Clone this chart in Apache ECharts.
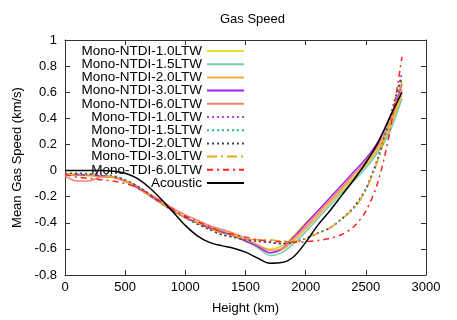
<!DOCTYPE html>
<html>
<head>
<meta charset="utf-8">
<script src="https://cdn.jsdelivr.net/npm/echarts@6/dist/echarts.min.js"></script>
<style>
  html, body { margin: 0; padding: 0; background: #fff; }
  #chart { width: 457px; height: 320px; }
</style>
</head>
<body>
<div id="chart"></div>
<script>
// heights (km) shared by every curve
const heights = [0, 100, 200, 300, 400, 500, 600, 700, 800, 900, 1000, 1100, 1200, 1300, 1400,
  1500, 1600, 1700, 1800, 1900, 2000, 2100, 2200, 2300, 2400, 2500, 2600, 2700, 2800]

const ntdi10 = [-0.03, -0.03, -0.035, -0.04, -0.05, -0.08, -0.13, -0.19, -0.25, -0.31, -0.36, -0.4, -0.43, -0.46, -0.49,
  -0.53, -0.57, -0.6, -0.58, -0.5, -0.4, -0.31, -0.23, -0.14, -0.05, 0.05, 0.18, 0.35, 0.6]
const ntdi15 = [-0.03, -0.03, -0.035, -0.04, -0.05, -0.08, -0.13, -0.19, -0.25, -0.31, -0.36, -0.4, -0.43, -0.46, -0.5,
  -0.54, -0.59, -0.65, -0.63, -0.56, -0.47, -0.37, -0.27, -0.17, -0.08, 0.02, 0.14, 0.3, 0.55]
const ntdi20 = [-0.035, -0.035, -0.04, -0.045, -0.055, -0.085, -0.13, -0.19, -0.25, -0.31, -0.36, -0.4, -0.43, -0.47, -0.5,
  -0.54, -0.58, -0.63, -0.61, -0.54, -0.45, -0.35, -0.25, -0.15, -0.06, 0.04, 0.16, 0.33, 0.58]
const ntdi30 = [-0.03, -0.03, -0.035, -0.04, -0.05, -0.08, -0.13, -0.19, -0.25, -0.31, -0.36, -0.4, -0.44, -0.47, -0.5,
  -0.54, -0.58, -0.63, -0.6, -0.51, -0.41, -0.31, -0.21, -0.11, -0.01, 0.09, 0.22, 0.4, 0.66]
const ntdi60 = [-0.04, -0.08, -0.08, -0.05, -0.05, -0.08, -0.12, -0.18, -0.23, -0.29, -0.34, -0.38, -0.42, -0.45, -0.48,
  -0.52, -0.57, -0.61, -0.6, -0.52, -0.43, -0.33, -0.23, -0.13, -0.03, 0.07, 0.19, 0.37, 0.62]
const tdi10 = [-0.02, -0.02, -0.025, -0.03, -0.04, -0.07, -0.12, -0.18, -0.25, -0.31, -0.36, -0.41, -0.45, -0.49, -0.51,
  -0.53, -0.54, -0.55, -0.56, -0.55, -0.52, -0.48, -0.44, -0.37, -0.28, -0.14, 0.1, 0.41, 0.75]
const tdi15 = [-0.02, -0.02, -0.025, -0.03, -0.04, -0.07, -0.12, -0.18, -0.25, -0.31, -0.36, -0.41, -0.45, -0.49, -0.51,
  -0.53, -0.54, -0.55, -0.56, -0.55, -0.52, -0.48, -0.44, -0.37, -0.29, -0.15, 0.08, 0.38, 0.7]
const tdi20 = [-0.025, -0.025, -0.03, -0.035, -0.045, -0.075, -0.12, -0.18, -0.25, -0.31, -0.36, -0.41, -0.45, -0.49, -0.51,
  -0.53, -0.54, -0.55, -0.56, -0.55, -0.52, -0.48, -0.44, -0.37, -0.28, -0.14, 0.09, 0.4, 0.72]
const tdi30 = [-0.03, -0.03, -0.035, -0.04, -0.05, -0.08, -0.13, -0.19, -0.25, -0.31, -0.36, -0.4, -0.44, -0.48, -0.5,
  -0.52, -0.53, -0.53, -0.54, -0.54, -0.52, -0.48, -0.44, -0.37, -0.29, -0.15, 0.08, 0.38, 0.68]
const tdi60 = [-0.03, -0.05, -0.06, -0.07, -0.08, -0.1, -0.13, -0.18, -0.24, -0.3, -0.35, -0.39, -0.43, -0.47, -0.49,
  -0.51, -0.53, -0.54, -0.545, -0.55, -0.545, -0.535, -0.52, -0.49, -0.43, -0.31, -0.09, 0.3, 0.87]
const acoustic = [0, 0, 0, 0, -0.005, -0.02, -0.06, -0.13, -0.22, -0.32, -0.42, -0.5, -0.55, -0.575, -0.595,
  -0.625, -0.67, -0.71, -0.705, -0.66, -0.55, -0.42, -0.31, -0.19, -0.07, 0.06, 0.21, 0.41, 0.6]

const names = ['Mono-NTDI-1.0LTW', 'Mono-NTDI-1.5LTW', 'Mono-NTDI-2.0LTW', 'Mono-NTDI-3.0LTW', 'Mono-NTDI-6.0LTW',
  'Mono-TDI-1.0LTW', 'Mono-TDI-1.5LTW', 'Mono-TDI-2.0LTW', 'Mono-TDI-3.0LTW', 'Mono-TDI-6.0LTW', 'Acoustic']
const values = [ntdi10, ntdi15, ntdi20, ntdi30, ntdi60, tdi10, tdi15, tdi20, tdi30, tdi60, acoustic]
const colors = ['#e6e020', '#70d0b0', '#f0b040', '#a020f0', '#fa8072',
  '#b040f0', '#20b890', '#444444', '#eaa820', '#ff2020', '#000000']
const dashes = ['solid', 'solid', 'solid', 'solid', 'solid',
  [2, 3], [2, 3], [2, 3], [10, 4, 2, 4], [6, 4, 2, 4], 'solid']

const FONT = 'Liberation Sans, Arial, sans-serif'
const chart = echarts.init(document.getElementById('chart'), null, { renderer: 'canvas' })

const frameAxis = {
  axisLine: { show: true, onZero: false, lineStyle: { color: '#333', width: 1 } },
  axisTick: { show: true, inside: true, length: 5, lineStyle: { color: '#333' } },
  splitLine: { show: false }
}

chart.setOption({
  animation: false,
  backgroundColor: '#fff',
  title: {
    text: 'Gas Speed',
    left: 215,
    top: 8,
    textStyle: { fontFamily: FONT, fontSize: 13, fontWeight: 'normal', color: '#000' }
  },
  grid: { left: 65, right: 31, top: 40, bottom: 42 },
  legend: {
    orient: 'vertical',
    align: 'right',
    right: 212,
    top: 44,
    padding: 0,
    itemGap: -0.8,
    itemWidth: 37,
    itemHeight: 8,
    itemStyle: { opacity: 0 },
    textStyle: { fontFamily: FONT, fontSize: 13.5, color: '#000', lineHeight: 13.4 },
    data: names
  },
  xAxis: [
    Object.assign({
      type: 'value', min: 0, max: 3000, interval: 500, position: 'bottom',
      name: 'Height (km)', nameLocation: 'middle', nameGap: 27,
      nameTextStyle: { fontFamily: FONT, fontSize: 13, color: '#000' },
      axisLabel: { fontFamily: FONT, fontSize: 13, color: '#000', margin: 6, formatter: v => String(v) }
    }, frameAxis),
    Object.assign({
      type: 'value', min: 0, max: 3000, interval: 500, position: 'top',
      axisLabel: { show: false }
    }, frameAxis)
  ],
  yAxis: [
    Object.assign({
      type: 'value', min: -0.8, max: 1, interval: 0.2, position: 'left',
      name: 'Mean Gas Speed (km/s)', nameLocation: 'middle', nameGap: 40,
      nameTextStyle: { fontFamily: FONT, fontSize: 13, color: '#000' },
      axisLabel: { fontFamily: FONT, fontSize: 13, color: '#000', margin: 8 }
    }, frameAxis),
    Object.assign({
      type: 'value', min: -0.8, max: 1, interval: 0.2, position: 'right',
      axisLabel: { show: false }
    }, frameAxis)
  ],
  series: names.map((name, i) => ({
    name,
    type: 'line',
    xAxisIndex: 0,
    yAxisIndex: 0,
    smooth: 0.3,
    symbol: 'none',
    color: colors[i],
    lineStyle: { color: colors[i], width: 1.5, type: dashes[i] },
    data: heights.map((h, k) => [h, values[i][k]])
  }))
})
</script>
</body>
</html>
